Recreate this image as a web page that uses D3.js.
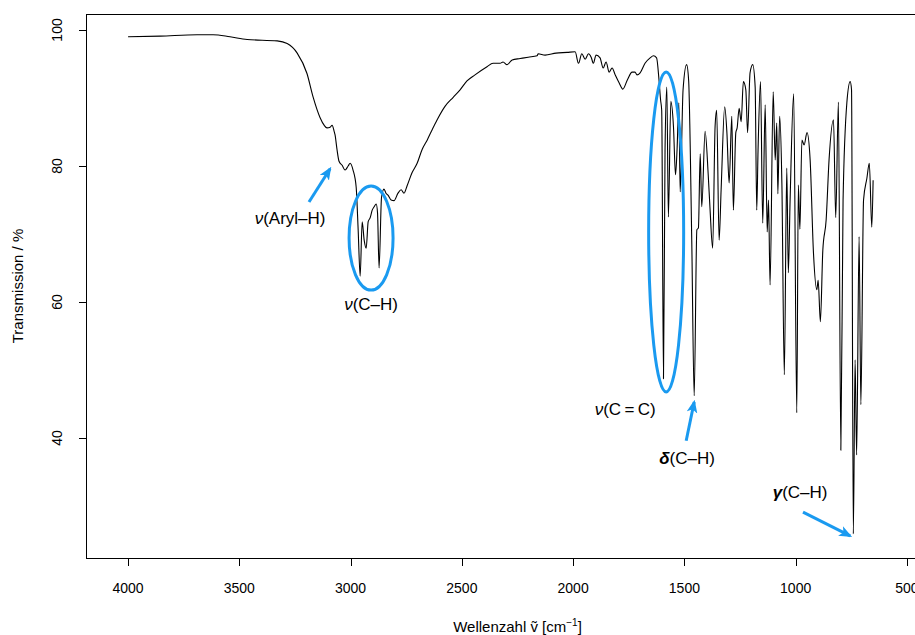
<!DOCTYPE html>
<html>
<head>
<meta charset="utf-8">
<script src="https://cdn.jsdelivr.net/npm/d3@7"></script>
<style>
  body { margin: 0; background: #fff; }
  svg { display: block; font-family: "Liberation Sans", Arial, Helvetica, sans-serif; }
</style>
</head>
<body>
<svg id="chart"></svg>
<script>
// IR spectrum (wavenumber in cm^-1, transmission in %)
const wavenumber = [
  4000, 3856, 3690, 3618, 3542, 3465, 3330, 3285, 3240, 3196, 3169, 3137, 3119, 3106, 3092, 3083,
  3074, 3070, 3061, 3052, 3038, 3025, 3011, 3002, 2989, 2975, 2966, 2957, 2948, 2939, 2930, 2921,
  2912, 2903, 2894, 2885, 2879, 2872, 2861, 2850, 2841, 2832, 2818, 2805, 2787, 2773, 2760, 2746,
  2724, 2701, 2679, 2656, 2634, 2611, 2575, 2539, 2508, 2477, 2441, 2387, 2360, 2328, 2315, 2297,
  2274, 2238, 2202, 2162, 2157, 2126, 2077, 2027, 1991, 1976, 1961, 1946, 1931, 1919, 1909, 1897,
  1879, 1865, 1852, 1838, 1825, 1811, 1793, 1777, 1757, 1735, 1722, 1713, 1699, 1677, 1654, 1639,
  1625, 1614, 1607, 1602, 1594, 1587, 1579, 1572, 1561, 1549, 1540, 1533, 1525, 1519, 1506, 1490,
  1481, 1467, 1456, 1444, 1437, 1429, 1422, 1407, 1393, 1385, 1373, 1362, 1355, 1344, 1335, 1319,
  1309, 1299, 1287, 1280, 1269, 1263, 1254, 1245, 1235, 1224, 1216, 1205, 1193, 1182, 1175, 1169,
  1158, 1148, 1137, 1128, 1122, 1115, 1101, 1092, 1085, 1080, 1072, 1062, 1051, 1040, 1033, 1025,
  1009, 995, 988, 981, 972, 962, 949, 935, 920, 905, 899, 889, 878, 863, 850, 830,
  820, 808, 797, 787, 770, 755, 749, 741, 733, 726, 715, 707, 695, 680, 669, 658,
  652
];
const transmission = [
  99.0, 99.1, 99.3, 99.3, 99.0, 98.6, 98.4, 98.0, 96.6, 93.6, 90.2, 87.1, 86.0, 85.6, 85.7, 86.0,
  85.1, 84.6, 82.4, 80.7, 80.1, 79.4, 80.0, 80.4, 79.4, 76.9, 70.6, 63.8, 71.8, 69.1, 67.9, 71.8,
  72.4, 73.5, 74.0, 74.4, 73.1, 65.0, 75.4, 76.6, 76.0, 75.7, 75.0, 74.9, 76.0, 76.5, 76.0, 77.1,
  79.0, 80.4, 82.4, 83.8, 85.3, 86.8, 88.8, 90.1, 91.2, 92.5, 93.4, 94.6, 95.1, 95.1, 95.3, 94.9,
  95.6, 95.8, 96.0, 96.2, 96.5, 96.3, 96.6, 96.7, 96.8, 95.1, 96.5, 95.7, 96.5, 96.0, 95.1, 96.3,
  95.9, 94.4, 95.3, 93.8, 94.4, 93.4, 92.2, 91.3, 92.6, 93.8, 93.8, 93.4, 93.7, 95.1, 95.9, 96.2,
  95.9, 92.6, 89.7, 88.2, 48.7, 82.4, 91.6, 72.5, 89.5, 85.7, 78.7, 82.4, 89.3, 76.2, 91.2, 94.9,
  92.6, 69.1, 46.2, 70.6, 70.9, 81.8, 74.0, 85.1, 78.7, 73.8, 67.9, 85.9, 88.2, 69.1, 76.5, 88.7,
  84.9, 77.5, 87.3, 73.5, 84.9, 85.6, 88.5, 86.5, 92.4, 91.2, 84.9, 93.7, 94.9, 91.6, 73.5, 82.4,
  92.4, 71.6, 89.0, 70.3, 75.0, 62.5, 90.9, 80.9, 86.3, 75.9, 87.3, 77.5, 49.3, 79.7, 64.3, 75.0,
  90.6, 43.7, 77.2, 70.7, 83.8, 83.1, 84.9, 80.9, 67.2, 61.8, 63.2, 57.1, 67.6, 72.1, 80.9, 86.8,
  72.4, 89.4, 38.2, 75.0, 89.3, 92.4, 91.2, 25.9, 51.5, 37.5, 69.6, 44.9, 75.0, 78.2, 80.4, 71.0,
  77.9
];

const xTicks = [4000, 3500, 3000, 2500, 2000, 1500, 1000, 500];
const yTicks = [40, 60, 80, 100];

const width = 915;
const height = 635;
const blue = '#1a9af0';
const font = 14;
const titleFont = 15;
const noteFont = 17;

const svg = d3.select('#chart')
  .attr('width', width)
  .attr('height', height);

// scales (the box runs past the right edge of the page, as in the original)
const x = d3.scaleLinear().domain([4189, 311]).range([86, 949]);
const y = d3.scaleLinear().domain([22.35, 102.35]).range([558, 14]);

//arrowhead marker
const defs = svg.append('defs');
defs.append('marker')
  .attr('id', 'head')
  .attr('viewBox', '0 0 12 10')
  .attr('refX', 10)
  .attr('refY', 5)
  .attr('markerUnits', 'userSpaceOnUse')
  .attr('markerWidth', 13)
  .attr('markerHeight', 11)
  .attr('orient', 'auto')
  .append('path')
    .attr('d', 'M0,0 L12,5 L0,10 L3,5 Z')
    .attr('fill', blue);

//plot box
svg.append('rect')
  .attr('x', x.range()[0] + 0.5)
  .attr('y', y.range()[1] + 0.5)
  .attr('width', x.range()[1] - x.range()[0])
  .attr('height', y.range()[0] - y.range()[1])
  .attr('fill', 'none')
  .attr('stroke', '#000')
  .attr('stroke-width', 1);

//x ticks + labels
const xg = svg.append('g');
xg.selectAll('line')
  .data(xTicks)
  .enter().append('line')
    .attr('x1', d => Math.round(x(d)) + 0.5)
    .attr('x2', d => Math.round(x(d)) + 0.5)
    .attr('y1', 558.5)
    .attr('y2', 566)
    .attr('stroke', '#000');
xg.selectAll('text')
  .data(xTicks)
  .enter().append('text')
    .attr('x', d => x(d))
    .attr('y', 593)
    .attr('text-anchor', 'middle')
    .style('font-size', font + 'px')
    .text(d => d);

//y ticks + labels
const yg = svg.append('g');
yg.selectAll('line')
  .data(yTicks)
  .enter().append('line')
    .attr('x1', 79)
    .attr('x2', 86.5)
    .attr('y1', d => Math.round(y(d)) + 0.5)
    .attr('y2', d => Math.round(y(d)) + 0.5)
    .attr('stroke', '#000');
yg.selectAll('text')
  .data(yTicks)
  .enter().append('text')
    .attr('transform', d => `translate(62,${y(d)}) rotate(-90)`)
    .attr('text-anchor', 'middle')
    .style('font-size', font + 'px')
    .text(d => d);

//axis titles
svg.append('text')
  .attr('transform', `translate(23,${(y.range()[0] + y.range()[1]) / 2}) rotate(-90)`)
  .attr('text-anchor', 'middle')
  .style('font-size', titleFont + 'px')
  .text('Transmission / %');

const xt = svg.append('text')
  .attr('x', (x.range()[0] + x.range()[1]) / 2)
  .attr('y', 632)
  .attr('text-anchor', 'middle')
  .style('font-size', titleFont + 'px');
xt.append('tspan').text('Wellenzahl \u1E7D [cm');
xt.append('tspan').attr('dy', -6).style('font-size', '10px').text('\u22121');
xt.append('tspan').attr('dy', 6).text(']');

//spectrum
const spectrum = wavenumber.map((w, i) => [w, transmission[i]]);
const line = d3.line()
  .x(d => x(d[0]))
  .y(d => y(d[1]))
  .curve(d3.curveMonotoneX);

svg.append('path')
  .datum(spectrum)
  .attr('d', line)
  .attr('fill', 'none')
  .attr('stroke', '#000')
  .attr('stroke-width', 1.1)
  .attr('stroke-linejoin', 'round');

//annotations (data coordinates)
const ellipses = [
  { w: 2908, t: 69.4, rx: 22, ry: 52 },
  { w: 1582, t: 70.3, rx: 17.5, ry: 160 }
];
svg.selectAll('.ring')
  .data(ellipses)
  .enter().append('ellipse')
    .attr('class', 'ring')
    .attr('cx', d => x(d.w))
    .attr('cy', d => y(d.t))
    .attr('rx', d => d.rx)
    .attr('ry', d => d.ry)
    .attr('fill', 'none')
    .attr('stroke', blue)
    .attr('stroke-width', 3);

const arrows = [
  { from: [3187, 74.7], to: [3092, 79.6] },
  { from: [1492, 39.6], to: [1456, 45.3] },
  { from: [967, 29.1], to: [755, 25.6] }
];
svg.selectAll('.arrow')
  .data(arrows)
  .enter().append('line')
    .attr('class', 'arrow')
    .attr('x1', d => x(d.from[0]))
    .attr('y1', d => y(d.from[1]))
    .attr('x2', d => x(d.to[0]))
    .attr('y2', d => y(d.to[1]))
    .attr('stroke', blue)
    .attr('stroke-width', 3)
    .attr('marker-end', 'url(#head)');

const labels = [
  { w: 3272, t: 72.4, sym: '\u03BD', bold: false, rest: '(Aryl\u2013H)' },
  { w: 2908, t: 59.7, sym: '\u03BD', bold: false, rest: '(C\u2013H)' },
  { w: 1766, t: 44.3, sym: '\u03BD', bold: false, rest: '(C\u2009=\u2009C)' },
  { w: 1488, t: 37.1, sym: '\u03B4', bold: true, rest: '(C\u2013H)' },
  { w: 980, t: 32.0, sym: '\u03B3', bold: true, rest: '(C\u2013H)' }
];
const lab = svg.selectAll('.lab')
  .data(labels)
  .enter().append('text')
    .attr('class', 'lab')
    .attr('x', d => x(d.w))
    .attr('y', d => y(d.t) + 6)
    .attr('text-anchor', 'middle')
    .style('font-size', noteFont + 'px');
lab.append('tspan')
  .style('font-style', 'italic')
  .style('font-weight', d => d.bold ? 'bold' : 'normal')
  .text(d => d.sym);
lab.append('tspan')
  .text(d => d.rest);
</script>
</body>
</html>
